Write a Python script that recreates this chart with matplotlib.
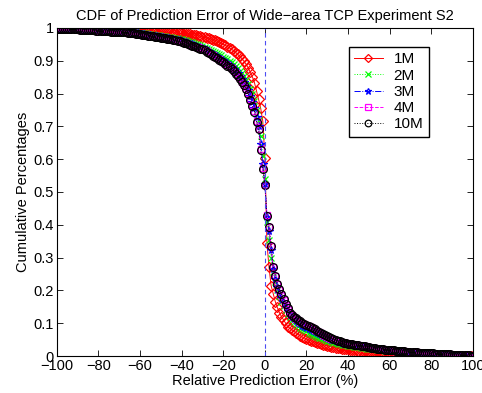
import matplotlib
matplotlib.use("Agg")
import matplotlib.pyplot as plt
import numpy as np

plt.rcParams['font.family'] = ['Liberation Sans', 'DejaVu Sans']
plt.rcParams['axes.unicode_minus'] = True

# relative prediction error (%) at which the CDF is evaluated
err = list(range(-100, 101))

cdf_1m = [
    1.000, 1.000, 1.000, 1.000, 0.999, 0.999, 0.999, 0.999, 0.999, 0.999,
    0.999, 0.999, 0.998, 0.998, 0.998, 0.998, 0.998, 0.998, 0.998, 0.997,
    0.997, 0.997, 0.997, 0.997, 0.997, 0.996, 0.996, 0.996, 0.996, 0.996,
    0.996, 0.995, 0.995, 0.995, 0.995, 0.994, 0.994, 0.994, 0.993, 0.993,
    0.993, 0.992, 0.992, 0.992, 0.991, 0.991, 0.990, 0.990, 0.989, 0.989,
    0.988, 0.988, 0.987, 0.987, 0.986, 0.986, 0.985, 0.985, 0.984, 0.983,
    0.983, 0.982, 0.981, 0.980, 0.980, 0.979, 0.978, 0.977, 0.976, 0.975,
    0.973, 0.972, 0.970, 0.968, 0.966, 0.964, 0.962, 0.960, 0.957, 0.954,
    0.950, 0.947, 0.943, 0.939, 0.935, 0.930, 0.925, 0.919, 0.913, 0.906,
    0.898, 0.889, 0.878, 0.865, 0.851, 0.833, 0.808, 0.782, 0.755, 0.716,
    0.605,
    0.345, 0.270, 0.215, 0.190, 0.166, 0.148, 0.132, 0.120, 0.110, 0.100,
    0.090, 0.085, 0.080, 0.075, 0.071, 0.066, 0.062, 0.058, 0.055, 0.052,
    0.049, 0.047, 0.045, 0.043, 0.041, 0.039, 0.037, 0.035, 0.034, 0.032,
    0.031, 0.029, 0.028, 0.026, 0.025, 0.024, 0.023, 0.022, 0.021, 0.020,
    0.019, 0.018, 0.017, 0.017, 0.016, 0.015, 0.015, 0.014, 0.013, 0.013,
    0.012, 0.012, 0.011, 0.011, 0.010, 0.009, 0.009, 0.008, 0.008, 0.007,
    0.007, 0.006, 0.006, 0.006, 0.005, 0.005, 0.005, 0.004, 0.004, 0.004,
    0.004, 0.003, 0.003, 0.003, 0.003, 0.003, 0.002, 0.002, 0.002, 0.002,
    0.002, 0.002, 0.002, 0.001, 0.001, 0.001, 0.001, 0.001, 0.001, 0.001,
    0.001, 0.001, 0.001, 0.001, 0.000, 0.000, 0.000, 0.000, 0.000, 0.000,
]

cdf_2m = [
    0.999, 0.999, 0.999, 0.998, 0.998, 0.998, 0.998, 0.998, 0.997, 0.997,
    0.997, 0.997, 0.996, 0.996, 0.996, 0.996, 0.995, 0.995, 0.995, 0.994,
    0.994, 0.994, 0.993, 0.993, 0.993, 0.992, 0.992, 0.991, 0.991, 0.990,
    0.990, 0.990, 0.989, 0.989, 0.988, 0.988, 0.987, 0.987, 0.986, 0.985,
    0.985, 0.984, 0.983, 0.983, 0.982, 0.981, 0.980, 0.979, 0.978, 0.977,
    0.976, 0.975, 0.974, 0.973, 0.972, 0.971, 0.970, 0.969, 0.968, 0.967,
    0.966, 0.964, 0.962, 0.960, 0.958, 0.956, 0.954, 0.952, 0.950, 0.948,
    0.946, 0.943, 0.940, 0.937, 0.934, 0.931, 0.928, 0.924, 0.920, 0.916,
    0.912, 0.908, 0.904, 0.900, 0.895, 0.890, 0.884, 0.877, 0.870, 0.862,
    0.853, 0.842, 0.830, 0.815, 0.798, 0.778, 0.750, 0.718, 0.670, 0.610,
    0.540,
    0.410, 0.355, 0.300, 0.255, 0.225, 0.200, 0.182, 0.166, 0.152, 0.140,
    0.129, 0.119, 0.111, 0.104, 0.098, 0.092, 0.087, 0.083, 0.079, 0.075,
    0.071, 0.068, 0.065, 0.062, 0.059, 0.056, 0.054, 0.051, 0.049, 0.047,
    0.045, 0.043, 0.041, 0.040, 0.038, 0.037, 0.035, 0.034, 0.033, 0.032,
    0.031, 0.030, 0.029, 0.028, 0.027, 0.026, 0.025, 0.024, 0.023, 0.022,
    0.021, 0.020, 0.020, 0.019, 0.018, 0.018, 0.017, 0.016, 0.016, 0.015,
    0.015, 0.014, 0.014, 0.013, 0.013, 0.012, 0.012, 0.011, 0.011, 0.010,
    0.010, 0.010, 0.009, 0.009, 0.009, 0.008, 0.008, 0.008, 0.007, 0.007,
    0.007, 0.006, 0.006, 0.006, 0.005, 0.005, 0.005, 0.004, 0.004, 0.004,
    0.003, 0.003, 0.003, 0.003, 0.002, 0.002, 0.002, 0.001, 0.001, 0.001,
]

cdf_3m = [
    0.998, 0.998, 0.998, 0.998, 0.997, 0.997, 0.997, 0.997, 0.996, 0.996,
    0.996, 0.996, 0.995, 0.995, 0.995, 0.994, 0.994, 0.994, 0.993, 0.993,
    0.993, 0.992, 0.992, 0.991, 0.991, 0.991, 0.990, 0.990, 0.989, 0.989,
    0.988, 0.988, 0.987, 0.987, 0.986, 0.986, 0.985, 0.984, 0.983, 0.983,
    0.982, 0.981, 0.980, 0.979, 0.978, 0.977, 0.976, 0.975, 0.974, 0.973,
    0.972, 0.971, 0.970, 0.969, 0.968, 0.967, 0.966, 0.964, 0.963, 0.962,
    0.960, 0.958, 0.956, 0.954, 0.952, 0.950, 0.948, 0.946, 0.943, 0.941,
    0.939, 0.936, 0.933, 0.929, 0.925, 0.921, 0.917, 0.913, 0.909, 0.905,
    0.901, 0.897, 0.892, 0.887, 0.882, 0.876, 0.869, 0.862, 0.854, 0.845,
    0.835, 0.823, 0.810, 0.793, 0.775, 0.757, 0.728, 0.700, 0.645, 0.585,
    0.525,
    0.425, 0.380, 0.322, 0.264, 0.236, 0.211, 0.193, 0.177, 0.162, 0.149,
    0.137, 0.125, 0.118, 0.112, 0.106, 0.101, 0.097, 0.093, 0.089, 0.086,
    0.082, 0.079, 0.076, 0.072, 0.069, 0.066, 0.063, 0.060, 0.057, 0.055,
    0.052, 0.050, 0.048, 0.046, 0.044, 0.042, 0.040, 0.038, 0.037, 0.036,
    0.035, 0.034, 0.033, 0.032, 0.031, 0.030, 0.029, 0.028, 0.027, 0.026,
    0.025, 0.024, 0.023, 0.022, 0.021, 0.020, 0.019, 0.018, 0.018, 0.017,
    0.016, 0.016, 0.015, 0.015, 0.014, 0.014, 0.013, 0.013, 0.012, 0.012,
    0.011, 0.011, 0.010, 0.010, 0.010, 0.009, 0.009, 0.008, 0.008, 0.008,
    0.007, 0.007, 0.007, 0.006, 0.006, 0.006, 0.005, 0.005, 0.005, 0.004,
    0.004, 0.004, 0.003, 0.003, 0.003, 0.002, 0.002, 0.002, 0.001, 0.001,
]

cdf_4m = [
    0.998, 0.998, 0.998, 0.997, 0.997, 0.997, 0.997, 0.996, 0.996, 0.996,
    0.996, 0.995, 0.995, 0.995, 0.994, 0.994, 0.994, 0.993, 0.993, 0.992,
    0.992, 0.992, 0.991, 0.991, 0.990, 0.990, 0.990, 0.989, 0.988, 0.988,
    0.987, 0.987, 0.986, 0.986, 0.985, 0.985, 0.984, 0.983, 0.982, 0.981,
    0.980, 0.979, 0.979, 0.978, 0.977, 0.976, 0.975, 0.974, 0.973, 0.972,
    0.971, 0.970, 0.969, 0.968, 0.967, 0.965, 0.964, 0.963, 0.961, 0.960,
    0.958, 0.956, 0.954, 0.951, 0.949, 0.947, 0.945, 0.943, 0.941, 0.938,
    0.936, 0.933, 0.929, 0.925, 0.921, 0.916, 0.912, 0.908, 0.904, 0.900,
    0.896, 0.891, 0.886, 0.881, 0.877, 0.869, 0.862, 0.854, 0.846, 0.836,
    0.826, 0.814, 0.801, 0.782, 0.764, 0.747, 0.716, 0.693, 0.630, 0.572,
    0.522,
    0.430, 0.392, 0.334, 0.271, 0.244, 0.219, 0.202, 0.187, 0.172, 0.157,
    0.144, 0.131, 0.125, 0.119, 0.114, 0.109, 0.105, 0.101, 0.098, 0.095,
    0.091, 0.088, 0.084, 0.080, 0.076, 0.072, 0.069, 0.065, 0.062, 0.059,
    0.056, 0.053, 0.051, 0.048, 0.046, 0.044, 0.042, 0.040, 0.039, 0.038,
    0.037, 0.036, 0.035, 0.034, 0.033, 0.032, 0.031, 0.030, 0.028, 0.027,
    0.026, 0.025, 0.024, 0.023, 0.022, 0.021, 0.020, 0.019, 0.018, 0.018,
    0.017, 0.016, 0.016, 0.015, 0.015, 0.014, 0.014, 0.013, 0.012, 0.012,
    0.011, 0.011, 0.011, 0.010, 0.010, 0.009, 0.009, 0.009, 0.008, 0.008,
    0.007, 0.007, 0.007, 0.006, 0.006, 0.006, 0.005, 0.005, 0.005, 0.004,
    0.004, 0.003, 0.003, 0.003, 0.003, 0.002, 0.002, 0.002, 0.001, 0.001,
]

cdf_10m = [
    0.998, 0.998, 0.998, 0.997, 0.997, 0.997, 0.997, 0.996, 0.996, 0.996,
    0.996, 0.995, 0.995, 0.995, 0.994, 0.994, 0.993, 0.993, 0.993, 0.992,
    0.992, 0.992, 0.991, 0.991, 0.990, 0.990, 0.989, 0.989, 0.988, 0.988,
    0.987, 0.987, 0.986, 0.986, 0.985, 0.984, 0.984, 0.983, 0.982, 0.981,
    0.980, 0.979, 0.978, 0.977, 0.976, 0.975, 0.974, 0.973, 0.972, 0.971,
    0.970, 0.969, 0.968, 0.967, 0.966, 0.965, 0.963, 0.962, 0.961, 0.959,
    0.958, 0.955, 0.953, 0.950, 0.948, 0.946, 0.944, 0.942, 0.940, 0.937,
    0.935, 0.932, 0.928, 0.924, 0.920, 0.915, 0.911, 0.907, 0.903, 0.899,
    0.895, 0.890, 0.885, 0.880, 0.876, 0.868, 0.861, 0.853, 0.845, 0.835,
    0.825, 0.813, 0.800, 0.780, 0.762, 0.745, 0.714, 0.691, 0.628, 0.570,
    0.521,
    0.428, 0.392, 0.335, 0.272, 0.245, 0.220, 0.203, 0.188, 0.173, 0.158,
    0.145, 0.132, 0.126, 0.120, 0.115, 0.110, 0.106, 0.102, 0.099, 0.096,
    0.092, 0.089, 0.085, 0.081, 0.077, 0.073, 0.070, 0.066, 0.063, 0.060,
    0.057, 0.054, 0.052, 0.049, 0.047, 0.045, 0.043, 0.041, 0.039, 0.038,
    0.037, 0.036, 0.035, 0.034, 0.033, 0.032, 0.031, 0.030, 0.029, 0.027,
    0.026, 0.025, 0.024, 0.023, 0.022, 0.021, 0.020, 0.019, 0.019, 0.018,
    0.017, 0.017, 0.016, 0.015, 0.015, 0.014, 0.014, 0.013, 0.013, 0.012,
    0.012, 0.011, 0.011, 0.010, 0.010, 0.010, 0.009, 0.009, 0.008, 0.008,
    0.008, 0.007, 0.007, 0.007, 0.006, 0.006, 0.005, 0.005, 0.005, 0.004,
    0.004, 0.004, 0.003, 0.003, 0.003, 0.002, 0.002, 0.002, 0.001, 0.001,
]

series_labels = ['1M', '2M', '3M', '4M', '10M']
x_ticks = [-100, -80, -60, -40, -20, 0, 20, 40, 60, 80, 100]
y_ticks = [0, 0.1, 0.2, 0.3, 0.4, 0.5, 0.6, 0.7, 0.8, 0.9, 1]
y_ticklabels = ['0', '0.1', '0.2', '0.3', '0.4', '0.5', '0.6', '0.7', '0.8', '0.9', '1']

fig = plt.figure(figsize=(4.82, 3.93), dpi=100)
ax = fig.add_axes([0.118, 0.094, 0.863, 0.835])

styles = [
    dict(color='red', linestyle='-', marker='D', markersize=5.0),
    dict(color=(0, 1, 0), linestyle=':', marker='x', markersize=4.5),
    dict(color='blue', linestyle='-.', marker='*', markersize=5.5),
    dict(color='magenta', linestyle='--', marker='s', markersize=4.8),
    dict(color='black', linestyle=':', marker='o', markersize=5.6),
]
data = [cdf_1m, cdf_2m, cdf_3m, cdf_4m, cdf_10m]

for y, lab, st in zip(data, series_labels, styles):
    ax.plot(err, y, label=lab, color=st['color'], linestyle=st['linestyle'],
            marker=st['marker'], markersize=st['markersize'],
            markerfacecolor='none', markeredgecolor=st['color'],
            markeredgewidth=0.9, linewidth=0.7)

ax.plot([0, 0], [0, 1], linestyle=(0, (4, 3)), color=(0.3, 0.3, 0.95), linewidth=0.8)

ax.set_xlim(-100, 100)
ax.set_ylim(0, 1)
ax.set_xticks(x_ticks)
ax.set_xticklabels([str(v).replace('-', '\u2212') for v in x_ticks])
ax.set_yticks(y_ticks)
ax.set_yticklabels(y_ticklabels)
ax.tick_params(direction='in', top=True, right=True, length=4, width=0.6,
               labelsize=10.5, pad=2)
for sp in ax.spines.values():
    sp.set_linewidth(0.8)

ax.set_title('CDF of Prediction Error of Wide\u2212area TCP Experiment S2', fontsize=10.5, pad=6)
ax.set_xlabel('Relative Prediction Error (%)', fontsize=10.5, labelpad=1)
ax.set_ylabel('Cumulative Percentages', fontsize=10.5, labelpad=3)

leg = ax.legend(loc='upper right', bbox_to_anchor=(0.894, 0.942), borderaxespad=0,
                fancybox=False, framealpha=1, edgecolor='black', fontsize=11,
                handlelength=1.9, handletextpad=0.7, labelspacing=0.15,
                borderpad=0.35, markerscale=0.85)
leg.get_frame().set_linewidth(1.0)

fig.savefig('out.png', dpi=100)
